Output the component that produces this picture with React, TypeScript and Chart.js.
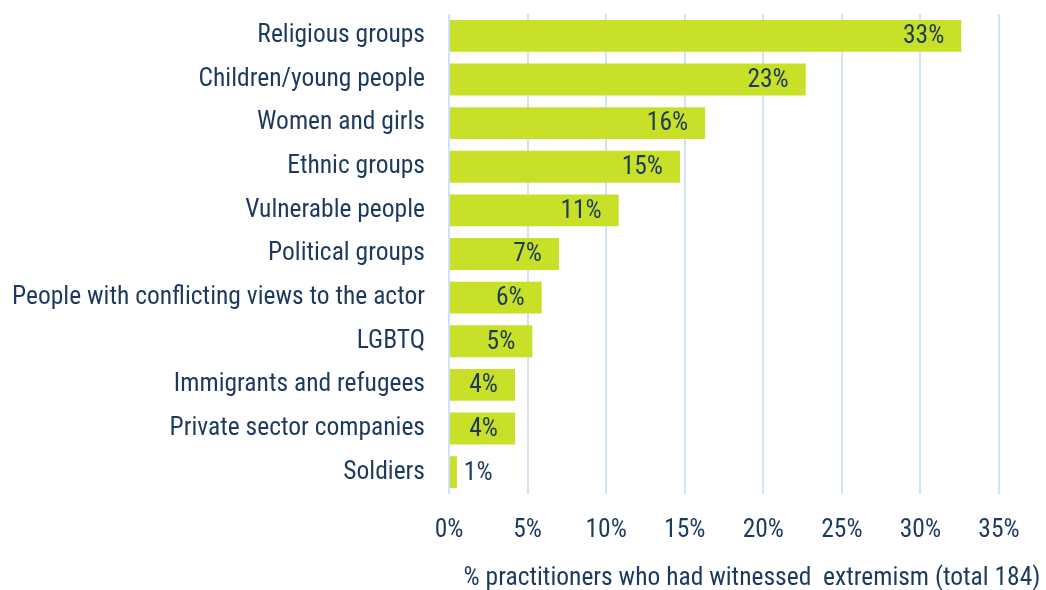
import React, { useEffect, useRef } from "react";
import { Chart, registerables } from "chart.js";

Chart.register(...registerables);

const categories = [
  "Religious groups",
  "Children/young people",
  "Women and girls",
  "Ethnic groups",
  "Vulnerable people",
  "Political groups",
  "People with conflicting views to the actor",
  "LGBTQ",
  "Immigrants and refugees",
  "Private sector companies",
  "Soldiers",
];
const values = [32.6, 22.7, 16.3, 14.7, 10.8, 7.0, 5.9, 5.3, 4.2, 4.2, 0.5];
const valueLabels = ["33%", "23%", "16%", "15%", "11%", "7%", "6%", "5%", "4%", "4%", "1%"];
const xTitle = "% practitioners who had witnessed  extremism (total 184)";

const FONT = "'Liberation Sans Narrow', 'Roboto Condensed', 'Liberation Sans', sans-serif";
const TEXT = "#1c3a5e";
const FS = 25.5;

const labelPlugin = {
  id: "valueLabels",
  afterDatasetsDraw(chart: any) {
    const { ctx } = chart;
    const meta = chart.getDatasetMeta(0);
    ctx.save();
    ctx.font = `${FS}px ${FONT}`;
    ctx.fillStyle = TEXT;
    ctx.textBaseline = "middle";
    meta.data.forEach((bar: any, i: number) => {
      const label = valueLabels[i];
      const w = ctx.measureText(label).width;
      const barLen = bar.x - bar.base;
      if (barLen > w + 22) {
        ctx.textAlign = "right";
        ctx.fillText(label, bar.x - 17, bar.y + 1);
      } else {
        ctx.textAlign = "left";
        ctx.fillText(label, bar.x + 7, bar.y + 1);
      }
    });
    ctx.restore();
  },
};

const titlePlugin = {
  id: "xTitle",
  afterDraw(chart: any) {
    const { ctx } = chart;
    ctx.save();
    ctx.font = `${FS}px ${FONT}`;
    ctx.fillStyle = TEXT;
    ctx.textAlign = "center";
    ctx.textBaseline = "middle";
    ctx.fillText(xTitle, 752, 579);
    ctx.restore();
  },
};

export default function App() {
  const ref = useRef<HTMLCanvasElement>(null);
  useEffect(() => {
    document.body.style.margin = "0";
    const chart = new Chart(ref.current!, {
      type: "bar",
      data: {
        labels: categories,
        datasets: [
          {
            data: values,
            backgroundColor: "#c8e028",
            barPercentage: 0.73,
            categoryPercentage: 1,
          },
        ],
      },
      options: {
        indexAxis: "y",
        animation: false,
        responsive: false,
        maintainAspectRatio: false,
        layout: { padding: { top: 14, right: 47, bottom: 0, left: 0 } },
        plugins: { legend: { display: false }, tooltip: { enabled: false } },
        scales: {
          x: {
            min: 0,
            max: 35,
            ticks: {
              stepSize: 5,
              callback: (v: any) => `${v}%`,
              font: { family: FONT, size: FS },
              color: TEXT,
              padding: 21,
            },
            grid: { color: "#cfe2f6", lineWidth: 2, drawTicks: false },
            border: { display: false },
            afterFit: (s: any) => {
              s.height = 96;
              s.paddingLeft = 0;
              s.paddingRight = 0;
            },
          },
          y: {
            ticks: {
              font: { family: FONT, size: FS },
              color: TEXT,
              padding: 24,
              autoSkip: false,
            },
            grid: { display: false, drawTicks: false },
            border: { display: false },
            afterFit: (s: any) => {
              s.width = 449;
              s.paddingTop = 0;
              s.paddingBottom = 0;
            },
          },
        },
      },
      plugins: [labelPlugin, titlePlugin],
    });
    return () => chart.destroy();
  }, []);
  return (
    <div style={{ position: "absolute", left: 0, top: 0, width: 1046, height: 590 }}>
      <canvas ref={ref} width={1046} height={590} />
    </div>
  );
}
